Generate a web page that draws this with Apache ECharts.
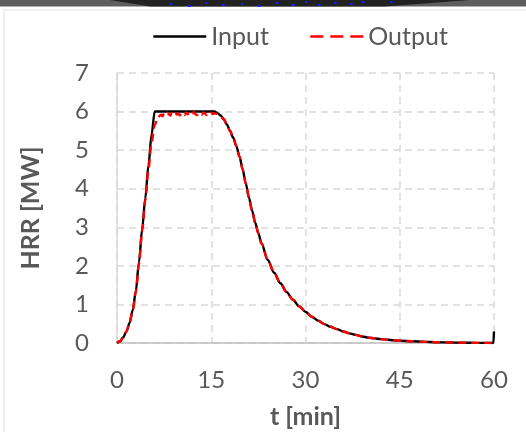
<!DOCTYPE html>
<html>
<head>
<meta charset="utf-8">
<script src="https://cdn.jsdelivr.net/npm/echarts@6/dist/echarts.min.js"></script>
<style>
  html, body { margin: 0; padding: 0; background: #ffffff; }
  #chart { width: 526px; height: 432px; }
</style>
</head>
<body>
<div id="chart"></div>
<script>
// Heat release rate curves: design input vs. simulated output
const xTicks = [0, 15, 30, 45, 60];
const yTicks = [0, 1, 2, 3, 4, 5, 6, 7];

const timeIn = [0, 0.5, 1, 1.5, 2, 2.5, 3, 3.5, 4, 4.5, 5, 5.5, 6,
  8, 10, 12, 14, 15.5, 16, 16.5, 17, 17.5, 18, 18.5, 19, 19.5, 20, 20.5,
  21, 21.5, 22, 22.5, 23, 24, 25, 26, 27, 28, 29, 30, 31, 32, 33, 34, 35,
  36, 37, 38, 39, 40, 41, 42, 43, 44, 45, 47, 49, 51, 53, 55, 57, 59.9, 60];
const hrrIn = [0, 0.04, 0.15, 0.3, 0.52, 0.85, 1.35, 2.1, 2.95, 3.75, 4.6, 5.4, 6.0,
  6.0, 6.0, 6.0, 6.0, 6.0, 5.96, 5.9, 5.8, 5.66, 5.5, 5.32, 5.1, 4.83, 4.5, 4.13,
  3.77, 3.43, 3.12, 2.84, 2.58, 2.15, 1.82, 1.55, 1.32, 1.12, 0.95, 0.81, 0.68, 0.58, 0.49, 0.42, 0.36,
  0.3, 0.25, 0.21, 0.17, 0.14, 0.12, 0.1, 0.085, 0.07, 0.06, 0.045, 0.03, 0.02, 0.013, 0.008, 0.004, 0, 0.3];

const timeOut = [0, 0.5, 1, 1.5, 2, 2.5, 3, 3.5, 4, 4.5, 5, 5.5, 6, 6.5,
  7, 7.25, 7.5, 7.75, 8, 8.25, 8.5, 8.75, 9, 9.25, 9.5, 9.75, 10, 10.25, 10.5, 10.75,
  11, 11.25, 11.5, 11.75, 12, 12.25, 12.5, 12.75, 13, 13.25, 13.5, 13.75, 14, 14.25,
  14.5, 14.75, 15, 15.25, 15.5, 16, 16.5, 17, 17.5, 18, 18.5, 19, 19.5, 20, 20.5,
  21, 21.5, 22, 22.5, 23, 24, 25, 26, 27, 28, 29, 30, 31, 32, 33, 34, 35,
  36, 37, 38, 39, 40, 41, 42, 43, 44, 45, 47, 49, 51, 53, 55, 57, 60];
const hrrOut = [0, 0.05, 0.15, 0.3, 0.52, 0.85, 1.33, 2.05, 2.9, 3.7, 4.5, 5.2, 5.65, 5.85,
  5.92, 5.88, 5.95, 5.91, 5.97, 5.93, 5.9, 5.96, 5.94, 5.99, 5.92, 5.95, 5.9, 5.97, 5.94, 5.91,
  5.98, 5.93, 5.96, 5.9, 5.95, 5.99, 5.93, 5.91, 5.97, 5.94, 5.92, 5.98, 5.95, 5.91,
  5.96, 5.93, 5.97, 5.94, 5.95, 5.94, 5.89, 5.8, 5.66, 5.5, 5.32, 5.1, 4.83, 4.5, 4.13,
  3.77, 3.43, 3.12, 2.84, 2.58, 2.15, 1.82, 1.55, 1.32, 1.12, 0.95, 0.81, 0.68, 0.58, 0.49, 0.42, 0.36,
  0.3, 0.25, 0.21, 0.17, 0.14, 0.12, 0.1, 0.085, 0.07, 0.06, 0.045, 0.03, 0.02, 0.013, 0.008, 0.004, 0];

const seriesNames = ['Input', 'Output'];

const pairs = (xs, ys) => xs.map((x, i) => [x, ys[i]]);
const labelColor = '#595959';
const fontFamily = 'Lato, "Open Sans", sans-serif';
const gridColor = '#d9d9d9';

const chart = echarts.init(document.getElementById('chart'), null, { renderer: 'canvas' });

// Header strip and card frame around the chart
const bandDots = [[170, 3], [188, 5], [205, 2], [222, 4], [241, 3], [258, 5], [276, 2], [292, 4],
  [305, 1], [318, 4], [334, 2], [350, 3], [362, 1], [390, 1]];

chart.setOption({
  animation: false,
  backgroundColor: '#ffffff',
  graphic: [
    { type: 'rect', z: -10, shape: { x: 4, y: 10, width: 560, height: 460 },
      style: { fill: '#ffffff', stroke: '#ebebeb', lineWidth: 1.5 } },
    { type: 'rect', z: -9, shape: { x: 0, y: 0, width: 526, height: 6.5 }, style: { fill: '#5e5e5e' } },
    { type: 'polygon', z: -8, shape: { points: [[110, 0], [470, 0], [385, 6.5], [150, 6.5]] },
      style: { fill: '#222222' } },
    ...bandDots.map(d => ({ type: 'rect', z: -7, shape: { x: d[0], y: d[1], width: 2.5, height: 2 },
      style: { fill: '#1a1aff' } }))
  ],
  legend: {
    left: 152,
    top: 24,
    padding: 0,
    itemWidth: 53,
    itemHeight: 14,
    itemGap: 40,
    itemStyle: { opacity: 0 },
    textStyle: { fontSize: 25, color: labelColor, fontFamily: fontFamily },
    data: [
      { name: seriesNames[0], lineStyle: { width: 2.6 } },
      { name: seriesNames[1], lineStyle: { width: 2.6, type: [13, 7] } }
    ]
  },
  grid: { left: 117, right: 32, top: 73, bottom: 89, containLabel: false, outerBoundsMode: 'none' },
  xAxis: {
    type: 'value',
    min: xTicks[0],
    max: xTicks[xTicks.length - 1],
    interval: 15,
    name: 't [min]',
    nameLocation: 'middle',
    nameGap: 61,
    nameTextStyle: { fontSize: 25, fontWeight: 'bold', color: labelColor, fontFamily: fontFamily },
    axisLine: { show: true, lineStyle: { color: '#bfbfbf', width: 1.5 } },
    axisTick: { show: false },
    axisLabel: { fontSize: 24, color: labelColor, fontFamily: fontFamily, margin: 25 },
    splitLine: { show: true, lineStyle: { color: gridColor, width: 1.5, type: [7, 5] } }
  },
  yAxis: {
    type: 'value',
    min: yTicks[0],
    max: yTicks[yTicks.length - 1],
    interval: 1,
    name: 'HRR [MW]',
    nameLocation: 'middle',
    nameGap: 74,
    nameTextStyle: { fontSize: 25, fontWeight: 'bold', color: labelColor, fontFamily: fontFamily },
    axisLine: { show: true, lineStyle: { color: gridColor, width: 1.5 } },
    axisTick: { show: false },
    axisLabel: { fontSize: 24, color: labelColor, fontFamily: fontFamily, margin: 28 },
    splitLine: { show: true, lineStyle: { color: gridColor, width: 1.5, type: [7, 5] } }
  },
  series: [
    {
      name: seriesNames[0],
      type: 'line',
      data: pairs(timeIn, hrrIn),
      showSymbol: false,
      symbol: 'none',
      smooth: 0.3,
      smoothMonotone: 'x',
      color: '#000000',
      lineStyle: { color: '#000000', width: 2.4 },
      z: 3
    },
    {
      name: seriesNames[1],
      type: 'line',
      data: pairs(timeOut, hrrOut),
      showSymbol: false,
      symbol: 'none',
      smooth: 0.3,
      smoothMonotone: 'x',
      color: '#ff0000',
      lineStyle: { color: '#ff0000', width: 2.4, type: [8, 5] },
      z: 4
    }
  ]
});
</script>
</body>
</html>
